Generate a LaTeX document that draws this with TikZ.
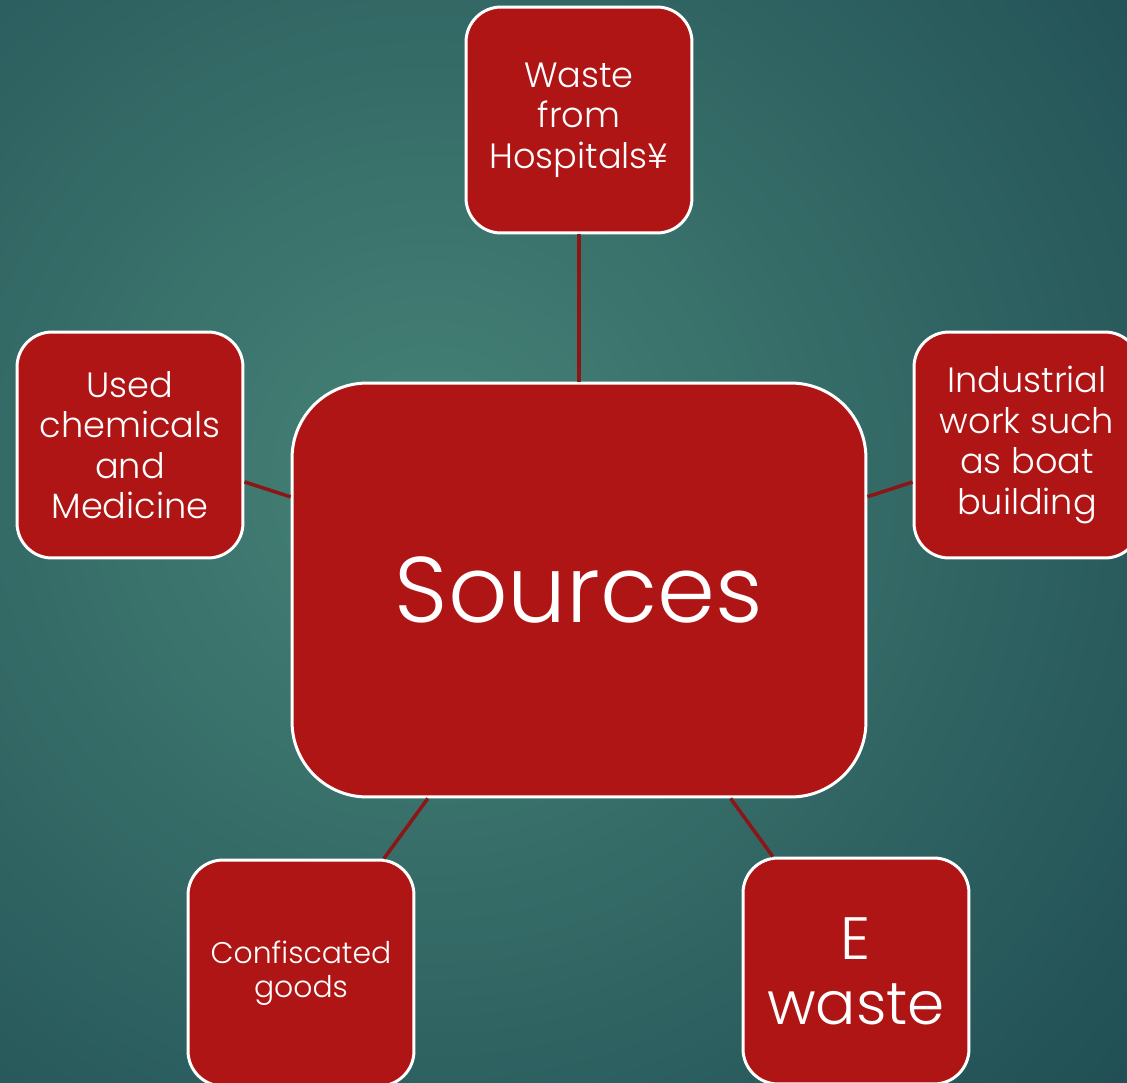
\documentclass[tikz,border=0pt]{standalone}
\usepackage{fontspec}
\setmainfont{Poppins}[UprightFont=* Light]
\usetikzlibrary{arrows}
\definecolor{bgcenter}{RGB}{70,131,119}
\definecolor{bgouter}{RGB}{32,78,84}
\definecolor{boxred}{RGB}{176,21,21}
\definecolor{linkred}{RGB}{140,22,22}
\tikzset{
  srcbox/.style={draw=white,line width=1.7pt,fill=boxred,rounded corners=0.7cm,
    minimum width=4.52cm,minimum height=4.52cm,align=center,text=white,
    font=\fontsize{20}{23}\selectfont},
  link/.style={draw=linkred,line width=2pt}
}
\begin{document}
\begin{tikzpicture}[x=0.02cm,y=-0.02cm]
  \useasboundingbox (0,0) rectangle (1127,1083);
  \clip (0,0) rectangle (1127,1083);
  \fill[bgouter] (0,0) rectangle (1127,1083);
  \shade[inner color=bgcenter,outer color=bgouter] (430,480) circle (930);
  \node[srcbox,minimum width=11.48cm,minimum height=8.28cm,rounded corners=1.5cm,
    font=\fontsize{53}{58}\selectfont] (sources) at (579,590) {Sources};
  \node[srcbox] (hospitals) at (579,120) {Waste\\from\\Hospitals¥};
  \node[srcbox] (chemicals) at (130,445) {Used\\chemicals\\and\\Medicine};
  \node[srcbox] (industrial) at (1027,445) {Industrial\\work such\\as boat\\building};
  \node[srcbox,font=\fontsize{17}{19.5}\selectfont] (goods) at (301,973) {Confiscated\\goods};
  \node[srcbox,font=\fontsize{34}{37}\selectfont] (ewaste) at (856,971) {E\\waste};
  \path[link]
    (sources) edge (hospitals)
    (sources) edge (chemicals)
    (sources) edge (industrial)
    (sources) edge (goods)
    (sources) edge (ewaste);
\end{tikzpicture}
\end{document}
